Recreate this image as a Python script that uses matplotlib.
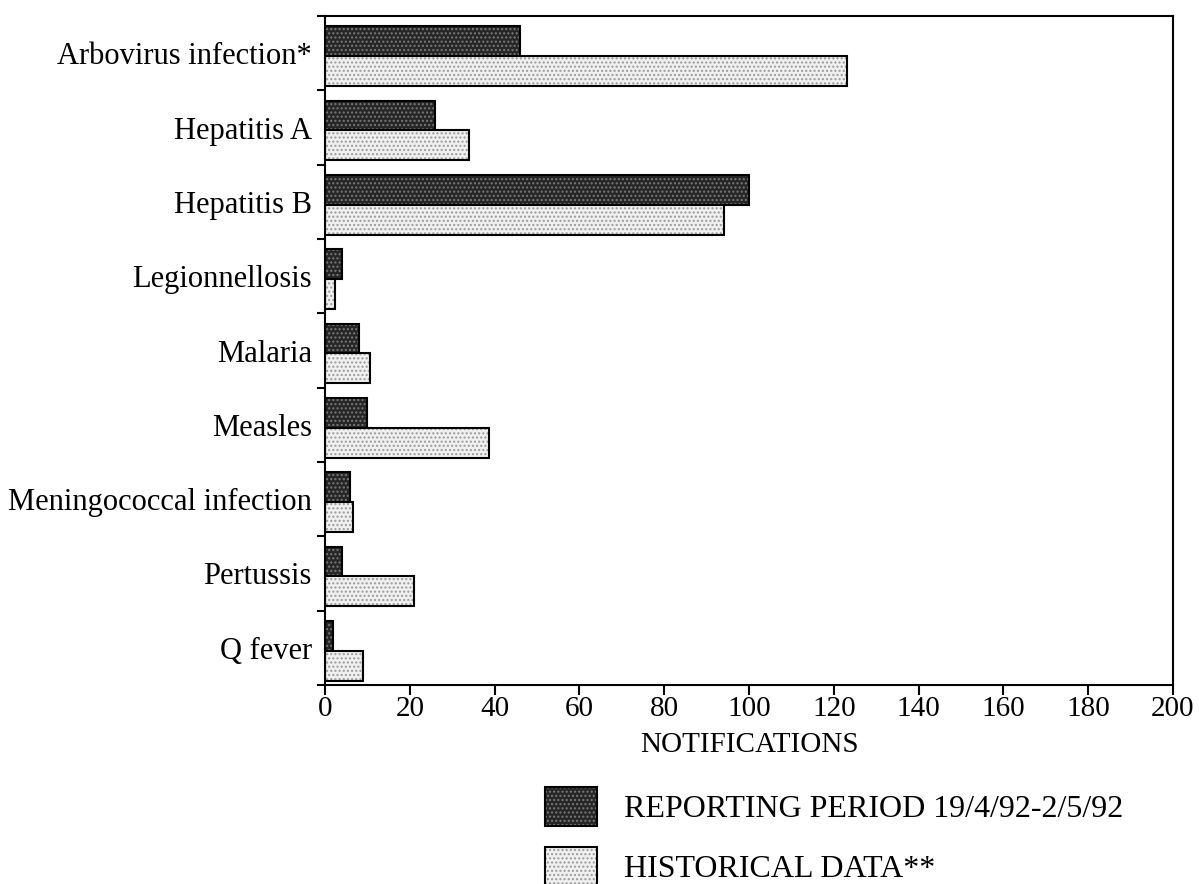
import matplotlib.pyplot as plt
import numpy as np
from matplotlib.patches import Patch

plt.rcParams.update({
    "font.family": ["Liberation Serif", "DejaVu Serif"],
    "font.size": 20,
    "hatch.linewidth": 1.0,
})

diseases = ["Arbovirus infection*", "Hepatitis A", "Hepatitis B", "Legionnellosis",
            "Malaria", "Measles", "Meningococcal infection", "Pertussis", "Q fever"]
reporting = [46, 26, 100, 4, 8, 10, 6, 4, 2]
historical = [123, 34, 94, 2.4, 10.6, 38.7, 6.7, 21, 9]
xticks = list(range(0, 201, 20))

DARK, DARK_HATCH = "#262626", "#7a7a7a"
LIGHT, LIGHT_HATCH = "#f0f0f0", "#9a9a9a"

fig = plt.figure(figsize=(11.99, 8.84), dpi=100)
ax = fig.add_axes([325/1199, 1 - 685/884, (1173 - 325)/1199, (685 - 16)/884])

y = np.arange(len(diseases))
h = 0.4
# filled + hatched bars, then black outlines on top
ax.barh(y - 0.16, reporting, height=h, color=DARK, edgecolor=DARK_HATCH, hatch="....", linewidth=0)
ax.barh(y - 0.16, reporting, height=h, fill=False, edgecolor="black", linewidth=1.5)
ax.barh(y + 0.24, historical, height=h, color=LIGHT, edgecolor=LIGHT_HATCH, hatch="....", linewidth=0)
ax.barh(y + 0.24, historical, height=h, fill=False, edgecolor="black", linewidth=1.5)

ax.set_ylim(len(diseases) - 0.5, -0.5)
ax.set_xlim(0, 200)
ax.set_yticks(np.arange(-0.5, len(diseases), 1.0))
ax.set_yticklabels([])
ax.set_yticks(y, minor=True)
ax.set_yticklabels(diseases, minor=True, fontsize=22)
ax.tick_params(axis="y", which="major", length=6, width=1.5, direction="out")
ax.tick_params(axis="y", which="minor", length=0, pad=9.5)
ax.set_xticks(xticks)
ax.tick_params(axis="x", length=7, width=1.5, direction="out", labelsize=21, pad=1)
for s in ax.spines.values():
    s.set_linewidth(1.5)
ax.set_xlabel("NOTIFICATIONS", fontsize=21, labelpad=7)

handles = [(Patch(facecolor=DARK, edgecolor=DARK_HATCH, hatch="....", linewidth=0),
            Patch(fill=False, edgecolor="black", linewidth=1.5)),
           (Patch(facecolor=LIGHT, edgecolor=LIGHT_HATCH, hatch="....", linewidth=0),
            Patch(fill=False, edgecolor="black", linewidth=1.5))]
labels = ["REPORTING PERIOD 19/4/92-2/5/92", "HISTORICAL DATA**"]
fig.legend(handles, labels, loc="upper left", bbox_to_anchor=(545/1199, 1 - 787/884),
           frameon=False, fontsize=23, handlelength=1.63, handleheight=1.52,
           labelspacing=0.65, handletextpad=0.85, borderaxespad=0, borderpad=0)

fig.savefig("out.png", dpi=100)
